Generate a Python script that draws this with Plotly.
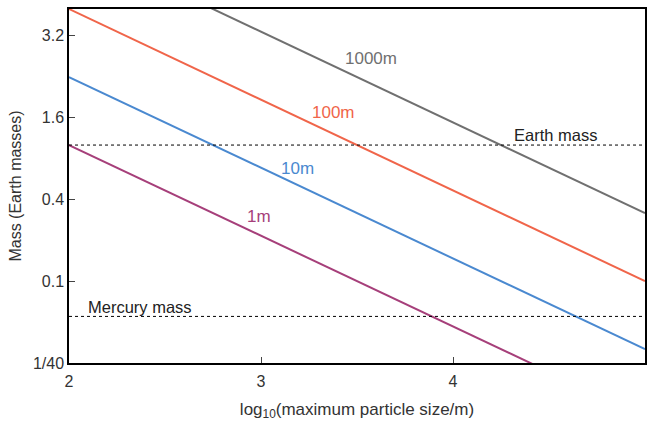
import math
import plotly.graph_objects as go

# Data
x_ends = [2, 5]
line_names = ["1m", "10m", "100m", "1000m"]
mass_1m = [1.0, 0.01]
mass_10m = [3.16, 0.0316]
mass_100m = [10.0, 0.1]
mass_1000m = [31.6, 0.316]
line_colors = ["#a63f7a", "#4a89d0", "#f0654a", "#707070"]

label_x = [2.99, 3.19, 3.375, 3.573]
label_y = [0.30, 0.672, 1.73, 4.32]

earth_mass = 1.0
mercury_mass = 0.055

ytick_vals = [0.025, 0.1, 0.4, 1.6, 6.4]
ytick_text = ["1/40", "0.1", "0.4", "1.6", "3.2"]
xtick_vals = [2, 3, 4, 5]

FONT = "Liberation Sans, Helvetica, Arial, sans-serif"

fig = go.Figure()
for name, ys, col in zip(line_names, [mass_1m, mass_10m, mass_100m, mass_1000m], line_colors):
    fig.add_trace(go.Scatter(x=x_ends, y=ys, mode="lines", line=dict(color=col, width=2),
                             showlegend=False, name=name, cliponaxis=True))

# reference mass lines
for m in [earth_mass, mercury_mass]:
    fig.add_trace(go.Scatter(x=[2, 5], y=[m, m], mode="lines",
                             line=dict(color="black", width=1, dash="dot"), showlegend=False))

for name, lx, ly, col in zip(line_names, label_x, label_y, line_colors):
    fig.add_annotation(x=lx, y=math.log10(ly), text=name, showarrow=False,
                       font=dict(family=FONT, size=17, color=col))

fig.add_annotation(x=4.536, y=math.log10(1.19), text="Earth mass", showarrow=False,
                   font=dict(family=FONT, size=16.5, color="#222"))
fig.add_annotation(x=2.37, y=math.log10(0.064), text="Mercury mass", showarrow=False,
                   font=dict(family=FONT, size=16.5, color="#222"))

fig.update_layout(
    width=649, height=422,
    margin=dict(l=69, r=4, t=9, b=59),
    plot_bgcolor="white", paper_bgcolor="white",
    font=dict(family=FONT, size=16, color="#333"),
)
fig.update_xaxes(range=[2, 5], tickvals=xtick_vals, ticks="inside", ticklen=6,
                 ticklabelstandoff=3,
                 showline=True, linecolor="black", linewidth=1.5, mirror=True,
                 showgrid=False, zeroline=False, automargin=False,
                 title=dict(text="log<sub>10</sub>(maximum particle size/m)", standoff=14,
                            font=dict(size=17)),
                 tickfont=dict(size=16))
fig.update_yaxes(type="log", range=[math.log10(0.025), 1.0], tickvals=ytick_vals,
                 ticktext=ytick_text, ticks="inside", ticklen=6,
                 showline=True, linecolor="black", linewidth=1.5, mirror=True,
                 showgrid=False, zeroline=False, automargin=False,
                 title=dict(text="Mass (Earth masses)", standoff=7, font=dict(size=16)),
                 tickfont=dict(size=16))

fig.write_html("out.html",
               config={"displayModeBar": False},
               post_script=("document.documentElement.style.margin='0';"
                            "document.documentElement.style.overflow='hidden';"
                            "document.body.style.margin='0';"
                            "document.body.style.overflow='hidden';"))
